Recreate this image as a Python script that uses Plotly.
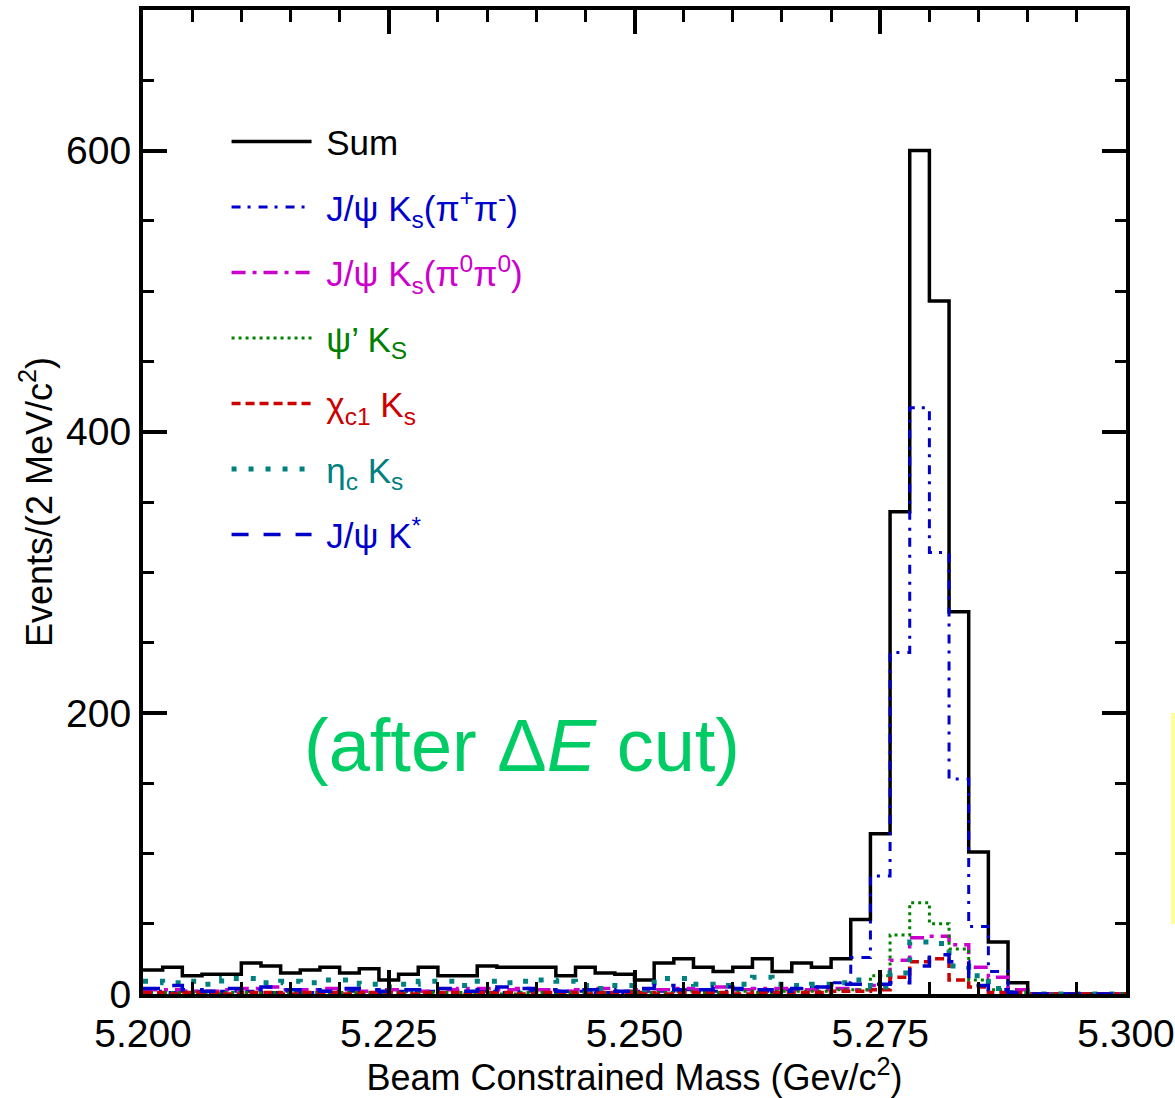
import plotly.graph_objects as go

# Binning of the beam-constrained mass histogram (GeV/c^2)
mass_lo = 5.200
mass_hi = 5.300
bin_width = 0.002
n_bins = 50

# Events per 2 MeV/c^2 bin, for each contributing channel and the total
sum_counts = [17, 19, 13, 14, 14, 22, 20, 15, 17, 19, 15, 18, 10, 14, 19, 13, 13, 20, 19, 19,
              19, 13, 19, 15, 14, 10, 22, 25, 19, 16, 19, 25, 16, 22, 19, 25, 53, 114, 343, 600,
              493, 272, 101, 37, 8, 0, 0, 0, 0, 0]
jpsi_ks_pipi = [2, 1, 2, 1, 2, 2, 1, 2, 1, 2, 2, 1, 1, 2, 2, 1, 2, 2, 1, 2,
                1, 2, 2, 1, 1, 2, 2, 3, 2, 2, 3, 2, 3, 4, 5, 8, 26, 84, 243, 417,
                314, 153, 48, 16, 3, 0, 0, 0, 0, 0]
jpsi_ks_pi0pi0 = [3, 3, 2, 2, 3, 4, 5, 3, 3, 4, 3, 2, 3, 3, 2, 3, 4, 4, 3, 4,
                  3, 2, 3, 4, 2, 3, 3, 4, 3, 5, 3, 4, 4, 3, 3, 4, 3, 6, 24, 40,
                  41, 35, 19, 12, 3, 0, 0, 0, 0, 0]
psi2s_ks = [1, 1, 1, 0, 1, 1, 1, 1, 1, 0, 1, 1, 1, 1, 1, 1, 1, 1, 0, 1,
            1, 1, 1, 1, 2, 1, 1, 2, 1, 1, 2, 1, 2, 2, 2, 3, 3, 13, 42, 65,
            50, 32, 10, 3, 1, 0, 0, 0, 0, 0]
chic1_ks = [1, 0, 1, 1, 0, 1, 1, 0, 1, 1, 0, 1, 1, 0, 1, 1, 0, 1, 1, 0,
            1, 1, 0, 1, 1, 1, 0, 1, 1, 1, 0, 1, 1, 1, 1, 2, 2, 3, 12, 23,
            25, 10, 5, 1, 1, 0, 0, 0, 0, 0]
etac_ks = [9, 8, 9, 7, 11, 11, 8, 9, 8, 10, 10, 7, 5, 7, 9, 9, 6, 9, 8, 9,
           10, 9, 6, 4, 6, 3, 11, 11, 7, 6, 7, 12, 7, 6, 7, 8, 10, 5, 15, 37,
           36, 20, 13, 4, 1, 0, 0, 0, 0, 0]
jpsi_kstar = [4, 6, 3, 2, 4, 3, 5, 3, 3, 2, 4, 3, 2, 3, 3, 4, 2, 3, 5, 4,
              3, 2, 3, 3, 2, 4, 6, 3, 3, 5, 4, 3, 2, 4, 5, 7, 7, 7, 8, 20,
              28, 23, 6, 3, 1, 0, 0, 0, 0, 0]

series_names = [
    "Sum",
    "J/ψ K<sub>s</sub>(π<sup>+</sup>π<sup>-</sup>)",
    "J/ψ K<sub>s</sub>(π<sup>0</sup>π<sup>0</sup>)",
    "ψ’ K<sub>S</sub>",
    "χ<sub>c1</sub> K<sub>s</sub>",
    "η<sub>c</sub> K<sub>s</sub>",
    "J/ψ K<sup>*</sup>",
]
series_values = [sum_counts, jpsi_ks_pipi, jpsi_ks_pi0pi0, psi2s_ks, chic1_ks, etac_ks, jpsi_kstar]
series_colors = ["#000000", "#0000cc", "#cc00cc", "#008000", "#cc0000", "#008080", "#0000cc"]
series_dash = ["solid", "9px,7px,3px,8px", "14px,7px,4px,7px", "3px,4px", "9px,5px", "5px,12px", "17px,15px"]
series_width = [3.5, 3, 3.5, 3, 3.5, 5, 3.5]

y_ticks = [0, 200, 400, 600]
x_ticks = [5.200, 5.225, 5.250, 5.275, 5.300]
x_ticklabels = ["5.200", "5.225", "5.250", "5.275", "5.300"]

edges = [round(mass_lo + bin_width * i, 4) for i in range(n_bins + 1)]

fig = go.Figure()
for i, (name, vals) in enumerate(zip(series_names, series_values)):
    fig.add_trace(go.Scatter(
        x=edges,
        y=list(vals) + [vals[-1]],
        mode="lines",
        line=dict(shape="hv", color=series_colors[i], dash=series_dash[i], width=series_width[i]),
        # coloured label, with a small lead-in gap after the line sample
        name=f"<span style='color:{series_colors[i]}'>\u00a0{name}</span>",
        legendgroup=f"g{i}",
    ))

font_main = "Liberation Sans, Arial, sans-serif"

axis_common = dict(
    showline=True, linecolor="black", linewidth=4, mirror="allticks",
    ticks="inside", ticklen=24, tickwidth=3.5, tickcolor="black",
    showgrid=False, zeroline=False, automargin=False,
    tickfont=dict(family=font_main, size=39, color="black"),
)

fig.update_xaxes(
    range=[mass_lo - 1e-6, mass_hi + 1e-6], tickvals=x_ticks, ticktext=x_ticklabels,
    ticklabelstandoff=2,
    minor=dict(dtick=0.005, ticks="inside", ticklen=12, tickwidth=3, tickcolor="black"),
    title=dict(text="Beam Constrained Mass (Gev/c<sup>2</sup>)",
               font=dict(family=font_main, size=36, color="black")),
    **axis_common,
)
fig.update_yaxes(
    range=[0, 700], tickvals=y_ticks,
    minor=dict(dtick=50, ticks="inside", ticklen=11, tickwidth=3, tickcolor="black"),
    title=dict(text="Events/(2 MeV/c<sup>2</sup>)",
               font=dict(family=font_main, size=36, color="black"), standoff=4),
    **axis_common,
)

fig.add_annotation(
    text="(after Δ<i>E</i> cut)", xref="paper", yref="paper",
    x=0.386, y=0.253, xanchor="center", yanchor="middle", showarrow=False,
    font=dict(family=font_main, size=74, color="#00cc66"),
)

# narrow highlight strip at the right page edge
fig.add_shape(type="rect", xref="paper", yref="paper",
              x0=1.0458, x1=1.06, y0=0.071, y1=0.2856,
              line=dict(width=0), fillcolor="#ffff99")

fig.update_layout(
    width=1175, height=1098,
    margin=dict(l=143, r=49, t=10, b=104, autoexpand=False),
    paper_bgcolor="white", plot_bgcolor="white",
    showlegend=True,
    legend=dict(
        x=0.085, y=0.896, xanchor="left", yanchor="top",
        bgcolor="rgba(0,0,0,0)", borderwidth=0,
        font=dict(family=font_main, size=35, color="black"),
        tracegroupgap=17, itemwidth=80,
    ),
)

fig.write_html("out.html")
